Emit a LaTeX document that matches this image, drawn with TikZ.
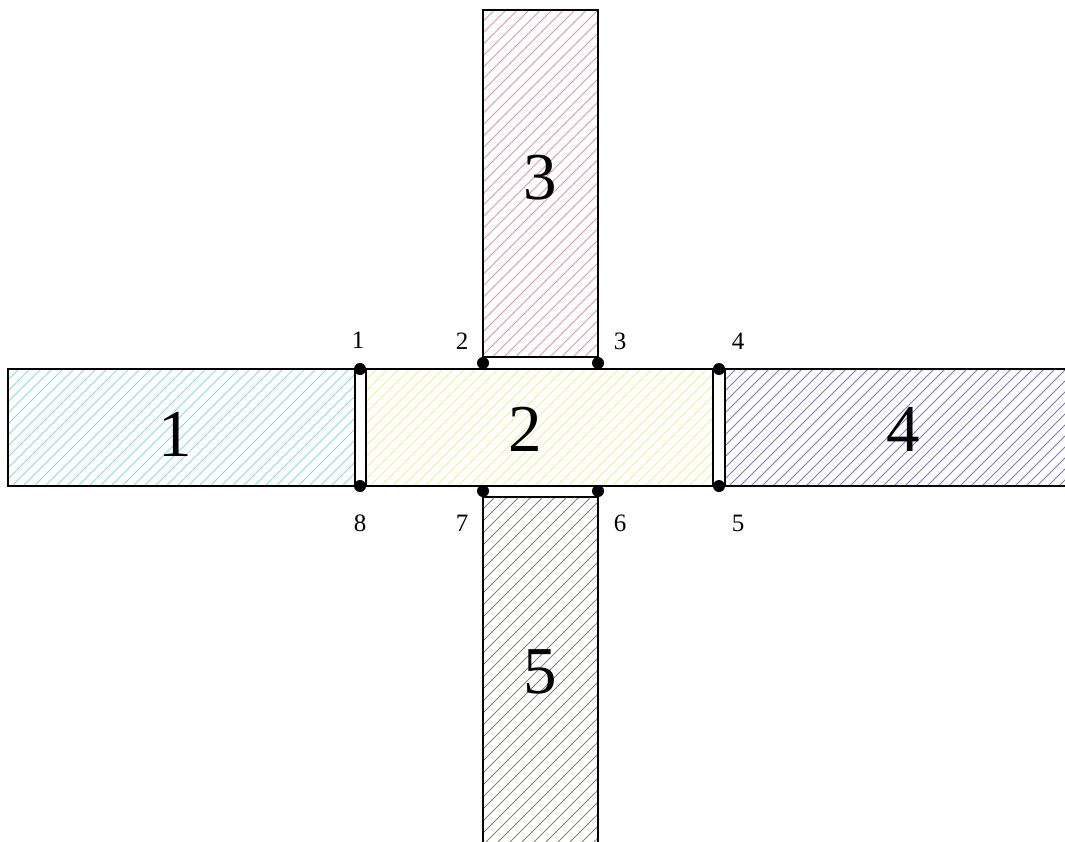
\documentclass[tikz,border=0pt]{standalone}
\usepackage{fontspec}
\setmainfont{Liberation Serif}
\definecolor{hcyan}{HTML}{8ADDD8}
\definecolor{hyellow}{HTML}{EDEE98}
\definecolor{hred}{HTML}{D99CA4}
\definecolor{hblue}{HTML}{7A7AC8}
\definecolor{hgray}{HTML}{7A8476}
\newcommand{\hatchrect}[6]{%
  \begin{scope}
    \clip (#1,#2) rectangle (#3,#4);
    \pgfmathsetmacro{\hh}{#4-#2}
    \pgfmathsetmacro{\ww}{#3-#1}
    \pgfmathsetmacro{\nn}{int((\ww+\hh)/#6)+1}
    \foreach \k in {0,...,\nn}{
      \draw[hatchline,#5] ({#1+#6*\k-\hh},#4) -- ({#1+#6*\k},#2);
    }
  \end{scope}}
\tikzset{
  hatchline/.style={line width=0.8pt},
  border/.style={draw=black,line width=1.4pt},
  strip/.style={draw=black,fill=white,line width=1.4pt},
  dot/.style={circle,fill=black,inner sep=0pt,minimum size=12pt},
  bignum/.style={font=\fontsize{67}{67}\selectfont},
  smallnum/.style={font=\fontsize{25}{25}\selectfont}
}
\begin{document}
\begin{tikzpicture}[x=1pt,y=-1pt]
\useasboundingbox (0,0) rectangle (1065,841);
\clip (0,0) rectangle (1065,841);
% hatching
\hatchrect{8}{369}{355}{486}{hcyan}{11}
\hatchrect{366}{369}{713}{486}{hyellow}{11}
\hatchrect{725}{369}{1070}{486}{hblue}{11}
\hatchrect{483}{10}{598}{357}{hred}{11.5}
\hatchrect{483}{497}{598}{850}{hgray}{12}
% borders
\draw[border] (8,369) rectangle (355,486);
\draw[border] (366,369) rectangle (713,486);
\draw[border] (1075,369) -- (725,369) -- (725,486) -- (1075,486);
\draw[border] (483,850) -- (483,497) -- (598,497) -- (598,850);
\draw[border] (483,10) rectangle (598,357);
% connecting strips
\draw[strip] (355,369) rectangle (366,486);
\draw[strip] (713,369) rectangle (725,486);
\draw[strip] (483,357) rectangle (598,369);
\draw[strip] (483,486) rectangle (598,497);
% dots
\node[dot] (p1) at (360,369) {};
\node[dot] (p8) at (360,486) {};
\node[dot] (p2) at (483,363) {};
\node[dot] (p3) at (598,363) {};
\node[dot] (p4) at (719,369) {};
\node[dot] (p5) at (719,486) {};
\node[dot] (p7) at (483,491) {};
\node[dot] (p6) at (598,491) {};
% point labels
\node[smallnum] (l1) at (358,340) {1};
\node[smallnum] (l2) at (462,341) {2};
\node[smallnum] (l3) at (620,341) {3};
\node[smallnum] (l4) at (738,341) {4};
\node[smallnum] (l8) at (360,523) {8};
\node[smallnum] (l7) at (462,523) {7};
\node[smallnum] (l6) at (620,523) {6};
\node[smallnum] (l5) at (738,523) {5};
% region labels
\node[bignum] (r1) at (175,434) {1};
\node[bignum] (r2) at (525,429) {2};
\node[bignum] (r3) at (540,178) {3};
\node[bignum] (r4) at (903,429) {4};
\node[bignum] (r5) at (540,672) {5};
\end{tikzpicture}
\end{document}
